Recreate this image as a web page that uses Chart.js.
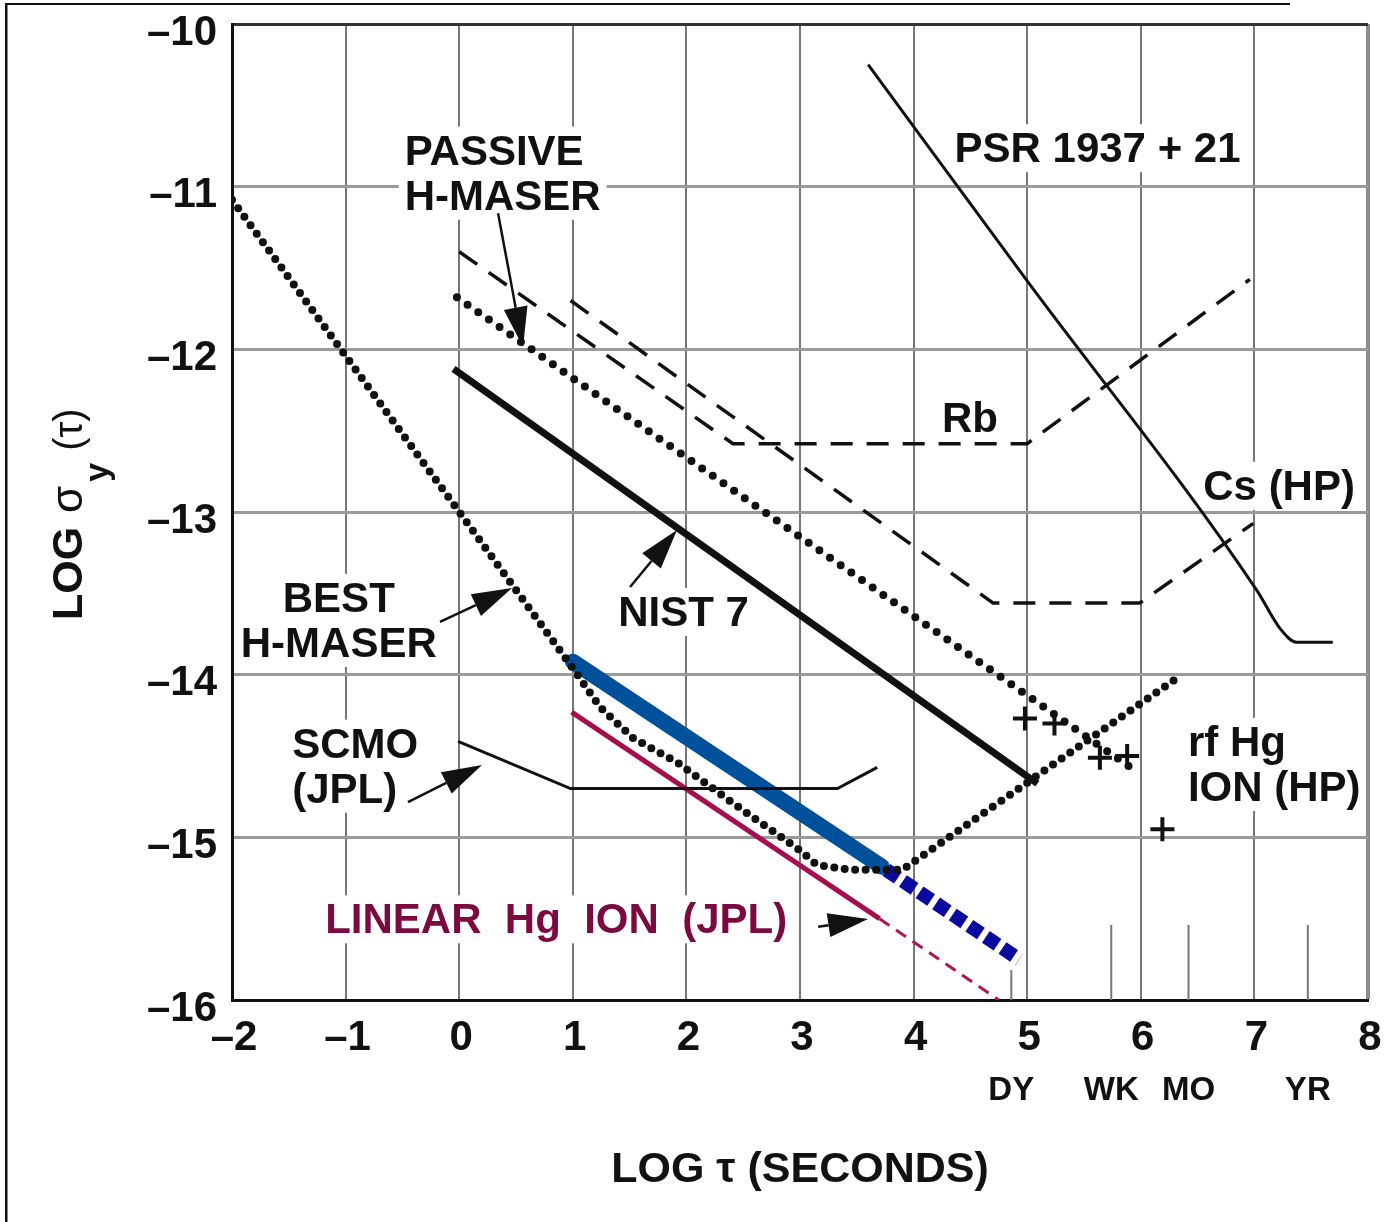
<!DOCTYPE html>
<html>
<head>
<meta charset="utf-8">
<script src="https://cdn.jsdelivr.net/npm/chart.js@4.4.0/dist/chart.umd.min.js"></script>
<style>
  html, body { margin: 0; padding: 0; background: #fff; }
  canvas { display: block; }
</style>
</head>
<body>
<canvas id="stabilityChart" width="1397" height="1222"></canvas>
<script>
// Frequency stability of clocks: log sigma_y(tau) vs log tau
const FONT = "'Liberation Sans', Arial, Helvetica, sans-serif";

// Best H-maser (dotted)
const bestMaserX = [-2, 0.99, 1.24, 1.53, 1.92, 2.41, 3.0, 3.15, 3.44, 3.6, 3.9, 6.32];
const bestMaserY = [-11.08, -13.95, -14.20, -14.39, -14.54, -14.79, -15.08, -15.17, -15.20, -15.20, -15.20, -14.02];

// Passive H-maser (dotted)
const passiveX = [-0.02, 5.97];
const passiveY = [-11.68, -14.60];

// Rb (dashed)
const rbX = [0, 2.41, 5.0, 6.96];
const rbY = [-11.40, -12.58, -12.58, -11.57];

// Cs (HP) (dashed)
const csX = [0.98, 4.70, 5.99, 6.99];
const csY = [-11.70, -13.56, -13.56, -13.07];

// PSR 1937 + 21
const psrX = [3.6, 4.99, 7.02, 7.23, 7.37, 7.69];
const psrY = [-10.25, -11.57, -13.48, -13.72, -13.80, -13.80];

// NIST 7
const nistX = [-0.05, 5.09];
const nistY = [-12.12, -14.67];

// SCMO (JPL)
const scmoX = [-0.01, 0.98, 3.33, 3.68];
const scmoY = [-14.41, -14.70, -14.70, -14.57];

// Trapped Hg ion, measured (blue) and projected (blue dashed)
const blueX = [1.0, 3.72];
const blueY = [-13.92, -15.18];
const blueProjX = [3.76, 4.93];
const blueProjY = [-15.20, -15.75];

// Linear Hg ion (JPL), measured and projected
const linearX = [0.99, 3.70];
const linearY = [-14.23, -15.50];
const linearProjX = [3.70, 4.75];
const linearProjY = [-15.50, -16.0];

// rf Hg ion (HP) points
const rfHgX = [4.98, 5.24, 5.64, 5.88, 6.19];
const rfHgY = [-14.27, -14.30, -14.51, -14.50, -14.95];

// time markers under the x axis
const periodTicks = [4.86, 5.74, 6.42, 7.47];
const periodLabels = ['DY', 'WK', 'MO', 'YR'];

// annotation texts (data units, baseline of the first line)
const textLabels = [
  { lines: ['PASSIVE', 'H-MASER'], x: -0.48, y: -10.865, align: 'left' },
  { lines: ['PSR 1937 + 21'], x: 4.36, y: -10.85, align: 'left' },
  { lines: ['Rb'], x: 4.25, y: -12.51, align: 'left' },
  { lines: ['Cs (HP)'], x: 6.55, y: -12.925, align: 'left' },
  { lines: ['NIST 7'], x: 1.40, y: -13.70, align: 'left' },
  { lines: ['BEST', 'H-MASER'], x: -1.06, y: -13.615, align: 'center' },
  { lines: ['SCMO', '(JPL)'], x: -1.47, y: -14.51, align: 'left' },
  { lines: ['LINEAR  Hg  ION  (JPL)'], x: -1.18, y: -15.59, align: 'left', color: '#7a0a3f' },
  { lines: ['rf Hg', 'ION (HP)'], x: 6.415, y: -14.50, align: 'left' }
];

// arrows: tail -> tip, data units
const arrows = [
  { from: [0.342, -11.163], to: [0.562, -11.986] },
  { from: [1.504, -13.461], to: [1.917, -13.111] },
  { from: [-0.169, -13.676], to: [0.465, -13.467] },
  { from: [-0.451, -14.783], to: [0.201, -14.555] },
  { from: [3.16, -15.55], to: [3.599, -15.502] }
];

const pts = (xs, ys) => xs.map((x, i) => ({ x: x, y: ys[i] }));
const dash = v => (v < 0 ? '\u2013' + Math.abs(v) : String(v));

function lineSet(label, xs, ys, opts) {
  return Object.assign({
    label: label,
    data: pts(xs, ys),
    showLine: true,
    pointRadius: 0,
    fill: false,
    tension: 0,
    borderColor: '#111',
    borderWidth: 3
  }, opts);
}

const datasets = [
  lineSet('PSR 1937 + 21', psrX, psrY, { borderWidth: 3, cubicInterpolationMode: 'monotone' }),
  lineSet('Rb', rbX, rbY, { borderWidth: 3.5, borderDash: [22, 14] }),
  lineSet('Cs (HP)', csX, csY, { borderWidth: 3.5, borderDash: [22, 14] }),
  lineSet('Passive H-maser', passiveX, passiveY, { borderWidth: 8, borderDash: [0, 13], borderCapStyle: 'round' }),
  lineSet('NIST 7', nistX, nistY, { borderWidth: 7 }),
  lineSet('SCMO (JPL)', scmoX, scmoY, { borderWidth: 3 }),
  lineSet('Best H-maser', bestMaserX, bestMaserY, { borderWidth: 8, borderDash: [0, 10.5], borderCapStyle: 'round' }),
  lineSet('Linear Hg ion (JPL)', linearX, linearY, { borderColor: '#a50f4f', borderWidth: 5 }),
  lineSet('Linear Hg ion (JPL) projected', linearProjX, linearProjY, { borderColor: '#b0155a', borderWidth: 3, borderDash: [12, 8] }),
  lineSet('Hg ion', blueX, blueY, { borderColor: '#00509b', borderWidth: 16, borderCapStyle: 'round' }),
  lineSet('Hg ion projected', blueProjX, blueProjY, { borderColor: '#0a0a9e', borderWidth: 14, borderDash: [14, 6] }),
  {
    label: 'rf Hg ion (HP)',
    data: pts(rfHgX, rfHgY),
    showLine: false,
    pointStyle: 'cross',
    pointRadius: 12,
    pointBorderWidth: 4,
    borderColor: '#111',
    backgroundColor: '#111'
  }
];

function drawArrow(ctx, x1, y1, x2, y2) {
  const ang = Math.atan2(y2 - y1, x2 - x1);
  const headLen = 40, half = 12;
  const bx = x2 - headLen * Math.cos(ang);
  const by = y2 - headLen * Math.sin(ang);
  ctx.beginPath();
  ctx.moveTo(x1, y1);
  ctx.lineTo(bx, by);
  ctx.lineWidth = 2.5;
  ctx.stroke();
  ctx.beginPath();
  ctx.moveTo(x2, y2);
  ctx.lineTo(bx + half * Math.sin(ang), by - half * Math.cos(ang));
  ctx.lineTo(bx - half * Math.sin(ang), by + half * Math.cos(ang));
  ctx.closePath();
  ctx.fill();
}

const LINE_GAP = 45;
const labelFont = 'bold 42px ' + FONT;

// white boxes behind labels (they break the grid lines), then texts and arrows
const annotationPlugin = {
  id: 'annotations',
  beforeDatasetsDraw(chart) {
    const { ctx, scales: { x, y }, chartArea } = chart;
    ctx.save();
    ctx.font = labelFont;
    ctx.fillStyle = '#fff';
    textLabels.forEach(l => {
      const px = x.getPixelForValue(l.x);
      const py = y.getPixelForValue(l.y);
      const w = Math.max(...l.lines.map(s => ctx.measureText(s).width));
      const left = l.align === 'center' ? px - w / 2 : px;
      const x0 = Math.max(left - 6, chartArea.left + 2);
      const x1 = Math.min(left + w + 6, chartArea.right - 3);
      ctx.fillRect(x0, py - 38, x1 - x0, (l.lines.length - 1) * LINE_GAP + 48);
    });
    ctx.restore();
  },
  afterDatasetsDraw(chart) {
    const { ctx, scales: { x, y }, chartArea } = chart;
    ctx.save();
    ctx.font = labelFont;
    ctx.textBaseline = 'alphabetic';
    textLabels.forEach(l => {
      const px = x.getPixelForValue(l.x);
      const py = y.getPixelForValue(l.y);
      ctx.fillStyle = l.color || '#111';
      ctx.textAlign = l.align;
      l.lines.forEach((s, i) => ctx.fillText(s, px, py + i * LINE_GAP));
    });
    ctx.fillStyle = '#111';
    ctx.strokeStyle = '#111';
    arrows.forEach(a => {
      drawArrow(ctx,
        x.getPixelForValue(a.from[0]), y.getPixelForValue(a.from[1]),
        x.getPixelForValue(a.to[0]), y.getPixelForValue(a.to[1]));
    });

    // day / week / month / year markers
    ctx.strokeStyle = '#777';
    ctx.lineWidth = 2;
    periodTicks.forEach((v, i) => {
      const px = x.getPixelForValue(v);
      ctx.beginPath();
      ctx.moveTo(px, chartArea.bottom - (i === 0 ? 30 : 75));
      ctx.lineTo(px, chartArea.bottom);
      ctx.stroke();
    });
    ctx.restore();
  },
  afterDraw(chart) {
    const { ctx, scales: { x }, chartArea } = chart;
    ctx.save();
    ctx.fillStyle = '#111';
    ctx.textAlign = 'center';
    ctx.textBaseline = 'alphabetic';
    ctx.font = 'bold 33px ' + FONT;
    periodTicks.forEach((v, i) => {
      ctx.fillText(periodLabels[i], x.getPixelForValue(v), chartArea.bottom + 100);
    });

    // y axis title with subscript
    ctx.translate(82, 620);
    ctx.rotate(-Math.PI / 2);
    ctx.textAlign = 'left';
    ctx.font = 'bold 43px ' + FONT;
    ctx.fillText('LOG', 0, 0);
    let w = ctx.measureText('LOG ').width + 2;
    ctx.font = '44px ' + FONT;
    ctx.fillText('\u03c3', w, 0);
    w += ctx.measureText('\u03c3').width + 4;
    ctx.font = 'bold 34px ' + FONT;
    ctx.fillText('y', w, 26);
    w += ctx.measureText('y').width + 12;
    ctx.font = '40px ' + FONT;
    ctx.fillText('(\u03c4)', w, 0);
    ctx.restore();

    // picture frame
    ctx.save();
    ctx.fillStyle = '#111';
    ctx.fillRect(5, 3, 2.5, chart.height - 3);
    ctx.fillRect(5, 3, 1285, 2);
    ctx.restore();
  }
};

const tickFont = { family: FONT, size: 42, weight: 'bold', lineHeight: 1 };

new Chart(document.getElementById('stabilityChart').getContext('2d'), {
  type: 'scatter',
  data: { datasets: datasets },
  options: {
    responsive: false,
    animation: false,
    layout: { padding: { top: 24, right: 29, left: 0, bottom: 0 } },
    plugins: { legend: { display: false }, tooltip: { enabled: false } },
    scales: {
      x: {
        type: 'linear',
        min: -2,
        max: 8,
        afterFit: s => { s.height = 222; s.paddingLeft = 0; s.paddingRight = 0; },
        ticks: {
          stepSize: 1,
          autoSkip: false,
          maxRotation: 0,
          minRotation: 0,
          padding: 17,
          labelOffset: 2,
          color: '#111',
          font: tickFont,
          callback: v => dash(v)
        },
        grid: {
          drawTicks: false,
          color: c => (c.tick && c.tick.value === 8 ? '#8c8c8c' : '#777'),
          lineWidth: c => (c.tick && c.tick.value === 8 ? 4 : 2)
        },
        border: { display: true, color: '#111', width: 3 },
        title: {
          display: true,
          text: 'LOG \u03c4 (SECONDS)',
          color: '#111',
          font: { family: FONT, size: 43, weight: 'bold', lineHeight: 1.2 },
          padding: { top: 0, bottom: 26 }
        }
      },
      y: {
        type: 'linear',
        min: -16,
        max: -10,
        afterFit: s => { s.width = 232; s.paddingTop = 0; s.paddingBottom = 0; },
        ticks: {
          stepSize: 1,
          autoSkip: false,
          padding: 15,
          labelOffset: 9,
          color: '#111',
          font: tickFont,
          callback: v => dash(v)
        },
        grid: {
          drawTicks: false,
          color: c => (c.tick && c.tick.value === -10 ? '#333' : '#9a9a9a'),
          lineWidth: 3
        },
        border: { display: true, color: '#111', width: 3 }
      }
    }
  },
  plugins: [annotationPlugin]
});
</script>
</body>
</html>
